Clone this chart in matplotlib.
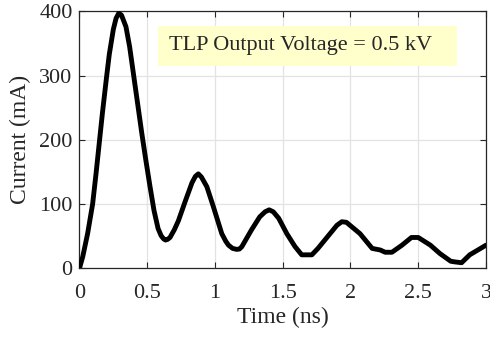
import matplotlib
matplotlib.use("Agg")
import matplotlib.pyplot as plt
from matplotlib.patches import Rectangle

plt.rcParams['font.family'] = ['Liberation Serif', 'DejaVu Serif']

time_ns = [0.0, 0.024, 0.06, 0.097, 0.122, 0.146, 0.17, 0.20, 0.22, 0.25,
           0.27, 0.29, 0.31, 0.343, 0.37, 0.40, 0.43, 0.46, 0.49, 0.52,
           0.55, 0.58, 0.602, 0.62, 0.635, 0.65, 0.668, 0.7,
           0.73, 0.78, 0.83, 0.855, 0.877, 0.9, 0.94,
           0.988, 1.05, 1.08, 1.10, 1.13, 1.16, 1.18, 1.198, 1.27, 1.33, 1.37, 1.40,
           1.43, 1.47, 1.53, 1.59, 1.64, 1.715, 1.76, 1.83, 1.90, 1.936, 1.97, 2.07,
           2.16, 2.22, 2.256, 2.306, 2.38, 2.45, 2.50, 2.59, 2.66, 2.74, 2.77, 2.82,
           2.88, 3.0]
current_mA = [0, 18, 54, 100, 147, 195, 243, 298, 333, 372,
              389, 397, 394, 376, 345, 300, 255, 210, 168, 128,
              90, 62, 51, 46, 44, 45, 48, 60,
              74, 104, 133, 143, 147, 142, 127,
              96, 54, 42, 36, 31, 29.5, 30, 33.6, 60, 80, 88, 91,
              88, 78, 54, 34, 21, 21, 31, 49, 67, 72.5, 71.6, 54,
              31, 28.5, 25, 25, 36, 48, 48, 36, 23, 11, 10, 8.7,
              21, 36]

xticks = [0, 0.5, 1, 1.5, 2, 2.5, 3]
xticklabels = ['0', '0.5', '1', '1.5', '2', '2.5', '3']
yticks = [0, 100, 200, 300, 400]
annotation = 'TLP Output Voltage = 0.5 kV'

fig = plt.figure(figsize=(4.9, 3.37), dpi=100)
ax = fig.add_axes([0.1622, 0.2038, 0.8296, 0.7627])

ax.plot(time_ns, current_mA, color='black', linewidth=3.5, solid_joinstyle='round',
        solid_capstyle='round', zorder=3)

ax.set_xlim(0, 3)
ax.set_ylim(0, 400)
ax.set_xticks(xticks)
ax.set_xticklabels(xticklabels)
ax.set_yticks(yticks)
ax.grid(True, color='#e3e3e3', linewidth=0.9)
ax.set_axisbelow(True)
ax.tick_params(direction='in', length=4, width=0.8, top=True, right=True,
               labelsize=16, colors='#262626', labelcolor='#262626')
ax.tick_params(axis='x', pad=11)
ax.tick_params(axis='y', pad=5)
for s in ax.spines.values():
    s.set_color('#262626')
    s.set_linewidth(0.9)

ax.set_xlabel('Time (ns)', fontsize=17, color='#262626', labelpad=3)
ax.set_ylabel('Current (mA)', fontsize=17, color='#262626', labelpad=6)

ax.add_patch(Rectangle((0.193, 0.786), 0.735, 0.157, transform=ax.transAxes,
                       facecolor='#ffffcc', edgecolor='none', zorder=2))
ax.text(0.545, 0.866, annotation, transform=ax.transAxes, ha='center', va='center',
        fontsize=16, color='#262626', zorder=4)

fig.savefig('out.png', dpi=100)
